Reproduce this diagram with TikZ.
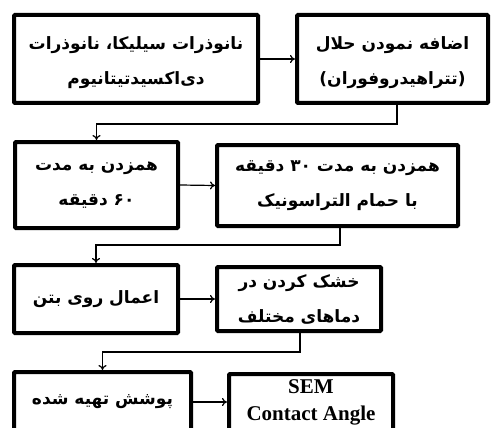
\documentclass[tikz,border=0pt]{standalone}
\usepackage{fontspec}
\setmainfont{Liberation Serif}
\newfontfamily\fafont[Script=Arabic]{DejaVu Sans}
\TeXXeTstate=1
\usetikzlibrary{arrows.meta,calc}
\newcommand{\fa}[1]{\beginR #1\endR}
\newcommand{\fadown}[1]{\raisebox{-4pt}[\height][\depth]{\beginR #1\endR}}
\begin{document}
\begin{tikzpicture}[x=1pt,y=-1pt,
  box/.style={draw,line width=4pt,rounded corners=1pt,fill=white,inner sep=0pt,
    align=center,font=\fafont\bfseries\fontsize{17}{35}\selectfont},
  conn/.style={line width=1.2pt,-{To[length=5pt,width=8pt,line width=1.2pt]}}]
\useasboundingbox[fill=white] (0,0) rectangle (493,428);
\node[box,minimum width=244pt,minimum height=88pt] (A) at (136,59)
  {\fadown{نانوذرات سیلیکا، نانوذرات}\\\fadown{دی‌اکسیدتیتانیوم}};
\node[box,minimum width=191pt,minimum height=88pt] (B) at (392.5,59)
  {\fadown{اضافه نمودن حلال}\\\fadown{(تتراهیدروفوران)}};
\node[box,minimum width=163pt,minimum height=86pt] (C) at (96.5,185)
  {\fa{همزدن به مدت}\\\fa{۶۰ دقیقه}};
\node[box,minimum width=241pt,minimum height=81pt] (D) at (337.5,185.5)
  {\fa{همزدن به مدت ۳۰ دقیقه}\\\fa{با حمام التراسونیک}};
\node[box,minimum width=164pt,minimum height=68pt] (E) at (96,299)
  {\fa{اعمال روی بتن}};
\node[box,minimum width=164pt,minimum height=64pt] (F) at (299,299)
  {\fa{خشک کردن در}\\\fa{دماهای مختلف}};
\node[box,minimum width=177pt,minimum height=60pt] (G) at (102.5,402)
  {\fa{پوشش تهیه شده}};
\node[box,minimum width=164pt,minimum height=56pt,
  font=\bfseries\fontsize{21}{27}\selectfont] (H) at (311,402)
  {SEM\\Contact Angle};
\draw[conn] (A.east) -- (B.west);
\draw[conn] (C.east) -- (D.west);
\draw[conn] (E.east) -- (F.west);
\draw[conn] (G.east) -- (H.west);
\draw[conn] ($(B.south)+(4.5,0)$) -- ++(0,19) -| (C.north);
\draw[conn] ($(D.south)+(2.5,0)$) -- ++(0,17) -| (E.north);
\draw[conn] ($(F.south)+(1,0)$) -- ++(0,19) -| (G.north);
\end{tikzpicture}
\end{document}
